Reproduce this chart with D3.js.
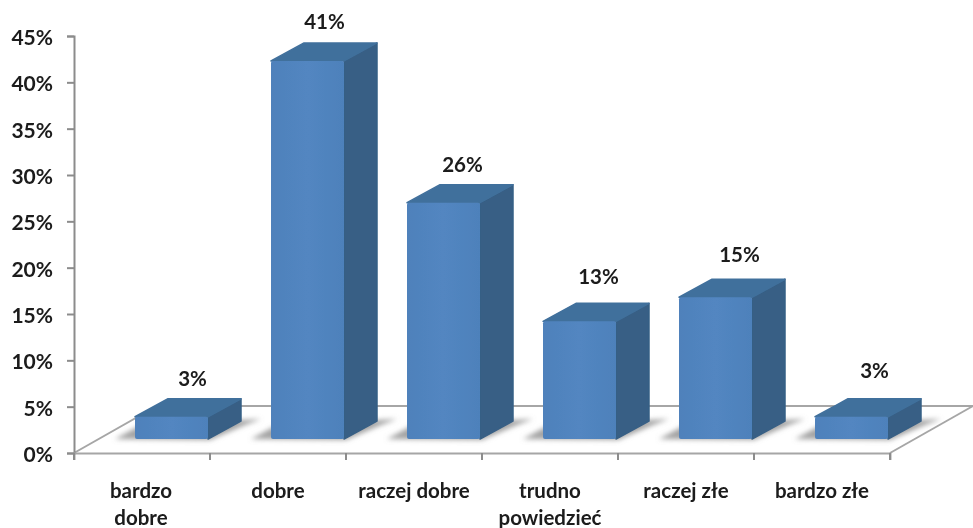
<!DOCTYPE html>
<html><head><meta charset="utf-8">
<script src="https://cdn.jsdelivr.net/npm/d3@7"></script>
<style>
html,body{margin:0;padding:0;background:#fff}
svg{display:block}
text{font-family:Lato,"Open Sans",sans-serif;fill:#1a1a1a;font-weight:700}
</style></head><body>
<div id="chart"></div>
<script>
const categories = [["bardzo","dobre"],["dobre"],["raczej dobre"],["trudno","powiedzieć"],["raczej złe"],["bardzo złe"]];
const barValues = [2.4, 40.8, 25.5, 12.7, 15.3, 2.4];
const valueLabels = ["3%","41%","26%","13%","15%","3%"];
const yTicks = [0,5,10,15,20,25,30,35,40,45];

const W=973,H=528;
const labelNudgeX=[0,-4,-2,-2,3,2];
const labelNudgeY=[0,-1,0,-6,-4,-8];
const svg=d3.select("#chart").append("svg").attr("width",W).attr("height",H);
const defs=svg.append("defs");
defs.append("filter").attr("id","soft").append("feGaussianBlur").attr("stdDeviation",0.5);
const sf=defs.append("filter").attr("id","shadow").attr("x","-30%").attr("y","-60%").attr("width","160%").attr("height","220%");
sf.append("feGaussianBlur").attr("stdDeviation",2.5);
const gr=defs.append("linearGradient").attr("id","front").attr("x1",0).attr("x2",1).attr("y1",0).attr("y2",0);
[[0,"#4f81bb"],[0.5,"#5286c1"],[1,"#4e81bb"]].forEach(s=>gr.append("stop").attr("offset",s[0]).attr("stop-color",s[1]));

const y=d3.scaleLinear().domain([0,45]).range([453,36]);
const floorDx=83, floorDy=-47;
const barDx=33, barDy=-18;
const baseY=439;
const xFloor=d3.scaleBand().domain(d3.range(6)).range([74,890]);
const x=d3.scaleBand().domain(d3.range(6)).range([135,888]).paddingInner(63/136).paddingOuter(0).align(0);
const h=v=>y(0)-y(v);

const root=svg.append("g").attr("filter","url(#soft)");
const line=d3.line();
const grey="#a6a6a6";

root.append("path").attr("d",line([[74,453],[74+floorDx,453+floorDy],[973,453+floorDy]])).attr("fill","none").attr("stroke",grey).attr("stroke-width",2);
root.append("path").attr("d",line([[890,453],[890+floorDx,453+floorDy]])).attr("fill","none").attr("stroke",grey).attr("stroke-width",2);

const shadows=root.append("g");
d3.range(6).forEach(i=>{
  const l=x(i),r=l+x.bandwidth();
  shadows.append("path").attr("d",line([[l-20,baseY],[l+6,baseY-14],[r+barDx+20,baseY+barDy-2],[r+barDx+4,baseY+barDy+4],[r+2,baseY+1]])+"Z")
    .attr("fill","#a3a3a3").attr("filter","url(#shadow)");
});

const yAxis=d3.axisLeft(y).tickValues(yTicks).tickFormat(d=>d+"%").tickSize(7).tickPadding(6);
const gy=root.append("g").attr("transform","translate(74,0)").call(yAxis);
gy.selectAll("path,line").attr("stroke","#8c8c8c").attr("stroke-width",2);
gy.selectAll("text").attr("font-size",21).attr("x",-21).attr("dy","0.4em");
const xAxis=d3.axisBottom(xFloor).tickFormat("").tickSize(7).tickSizeOuter(7);
const gx=root.append("g").attr("transform","translate(0,453)").call(xAxis);
gx.selectAll("path").attr("stroke","#a6a6a6").attr("stroke-width",2);
gx.selectAll("line").remove();
d3.range(7).forEach(i=>{
  const px=74+136*i;
  gx.append("line").attr("x1",px).attr("x2",px).attr("y1",0).attr("y2",7).attr("stroke","#8c8c8c").attr("stroke-width",2);
});

const bars=root.selectAll("g.bar").data(barValues).join("g").attr("class","bar");
bars.append("path").attr("d",(d,i)=>{const l=x(i),r=l+x.bandwidth(),t=baseY-h(d);
  return line([[r,t],[r+barDx,t+barDy],[r+barDx,baseY+barDy],[r,baseY]])+"Z";}).attr("fill","#375f85").attr("stroke","#375f85").attr("stroke-width",1.5).attr("stroke-linejoin","round");
bars.append("path").attr("d",(d,i)=>{const l=x(i),r=l+x.bandwidth(),t=baseY-h(d);
  return line([[l,t],[l+barDx,t+barDy],[r+barDx,t+barDy],[r,t]])+"Z";}).attr("fill","#41709c").attr("stroke","#41709c").attr("stroke-width",1.5).attr("stroke-linejoin","round");
bars.append("rect").attr("x",(d,i)=>x(i)).attr("y",d=>baseY-h(d)).attr("rx",2).attr("width",x.bandwidth()).attr("height",d=>h(d)).attr("fill","url(#front)");

root.selectAll("text.val").data(barValues).join("text").attr("class","val")
  .attr("x",(d,i)=>x(i)+x.bandwidth()/2+21+labelNudgeX[i])
  .attr("y",(d,i)=>baseY-h(d)-33+labelNudgeY[i]+2)
  .attr("text-anchor","middle").attr("font-size",20.5).text((d,i)=>valueLabels[i]);

categories.forEach((c,i)=>{
  const t=root.append("text").attr("text-anchor","middle").attr("font-size",20.5);
  c.forEach((s,j)=>t.append("tspan").attr("x",xFloor(i)+68-(i===0?1:0)+(i===1?0:0)).attr("y",498+j*26.5).text(s));
});
</script>
</body></html>
